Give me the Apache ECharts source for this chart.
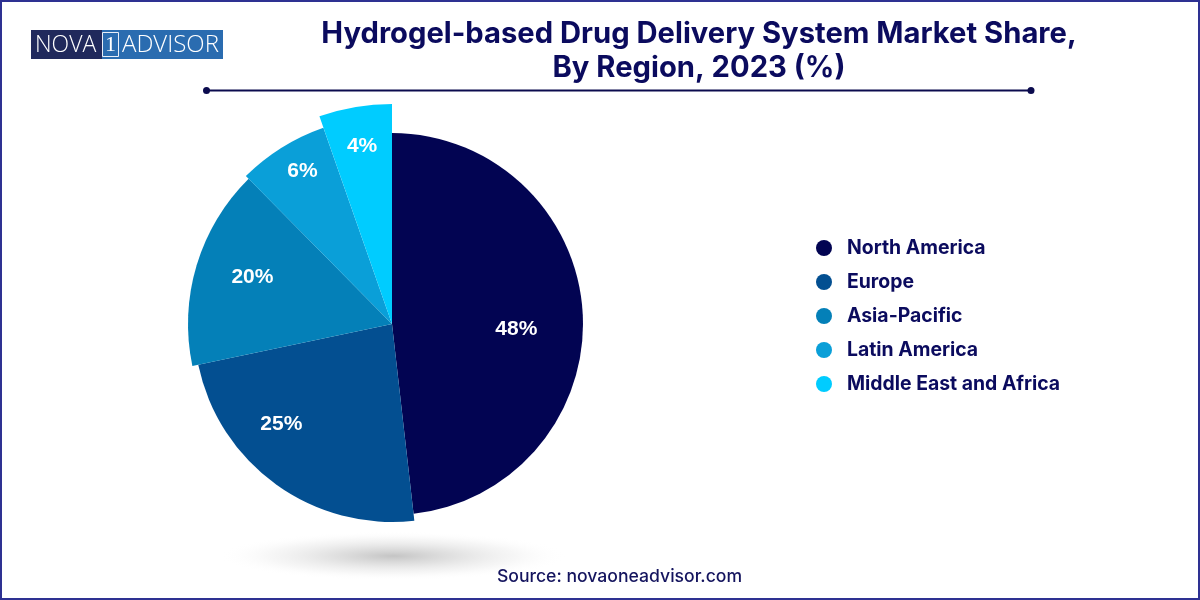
<!DOCTYPE html>
<html><head><meta charset="utf-8">
<style>html,body{margin:0;padding:0;background:#fff}#c{width:1200px;height:600px}</style>
<script src="https://cdn.jsdelivr.net/npm/echarts@6/dist/echarts.min.js"></script>
</head><body><div id="c"></div>
<script>
const categories = ['North America','Europe','Asia-Pacific','Latin America','Middle East and Africa'];
const shareLabels = [48,25,20,6,4];
const drawnShares = [48.2,23.5,15.9,7.05,5.35];
const colors = ['#020452','#034f91','#0480b8','#0a9fd8','#00ccff'];
const radii = [191,198,204,208,220];
const labelOffsets = [[26,11],[-51,17],[-39,-17],[-33,-62],[-11,-66]];
const ink = '#0b0b5e';
const sansBold = 'Inter, "Liberation Sans", sans-serif';

let cum = 0;
const series = categories.map((name,i)=>{
  const startAngle = 90 - cum*3.6;
  cum += drawnShares[i];
  return {
    type:'pie', center:[392,324], radius:[0,radii[i]], startAngle, clockwise:true,
    silent:true, animation:false, avoidLabelOverlap:false, z:2+i,
    labelLine:{show:false},
    data:[
      {name, value:drawnShares[i], itemStyle:{color:colors[i]},
       label:{show:true, position:'inside', formatter:shareLabels[i]+'%', color:'#fff',
              fontFamily:'"Liberation Sans", Arial, sans-serif', fontWeight:'bold', fontSize:21,
              offset:labelOffsets[i]}},
      {name:'\u200b'+i, value:100-drawnShares[i], itemStyle:{color:'rgba(0,0,0,0)'}, label:{show:false}}
    ]
  };
});

const chart = echarts.init(document.getElementById('c'),null,{renderer:'canvas'});
chart.setOption({
  backgroundColor:'#fff',
  animation:false,
  title:{
    text:'Hydrogel-based Drug Delivery System Market Share,\nBy Region, 2023 (%)',
    left:694, top:12, textAlign:'center',
    textStyle:{color:ink,fontFamily:sansBold,fontWeight:'bold',fontSize:29.2,lineHeight:34}
  },
  legend:{
    orient:'vertical', left:811, top:231, icon:'circle', itemWidth:16, itemHeight:16, itemGap:10,
    selectedMode:false, data:categories,
    textStyle:{color:ink,fontFamily:sansBold,fontWeight:'bold',fontSize:19.4,padding:[0,0,0,10],lineHeight:24}
  },
  series,
  graphic:[
    {type:'rect',z:100,shape:{x:1,y:1,width:1198,height:598},style:{fill:'none',stroke:'#2e3192',lineWidth:2}},
    {type:'circle',z:0,scaleY:0.14,x:393,y:556,shape:{cx:0,cy:0,r:175},
     style:{fill:new echarts.graphic.RadialGradient(0.5,0.5,0.5,[
       {offset:0,color:'rgba(196,196,196,1)'},{offset:0.35,color:'rgba(218,218,218,0.8)'},{offset:0.7,color:'rgba(238,238,238,0.5)'},{offset:1,color:'rgba(255,255,255,0)'}])}},
    {type:'line',shape:{x1:207,y1:90.5,x2:1031,y2:90.5},style:{stroke:'#0b0b4e',lineWidth:2}},
    {type:'circle',shape:{cx:206.5,cy:90.5,r:3.5},style:{fill:'#0b0b4e'}},
    {type:'circle',shape:{cx:1031,cy:90.5,r:3.5},style:{fill:'#0b0b4e'}},
    {type:'rect',shape:{x:31,y:30,width:71,height:29},style:{fill:'#20295c'}},
    {type:'rect',shape:{x:102,y:30,width:121,height:29},style:{fill:'#2a6cb0'}},
    {type:'rect',shape:{x:102.5,y:32.5,width:16,height:24},style:{fill:'none',stroke:'#e8eef8',lineWidth:1}},
    {type:'text',style:{x:35,y:45,text:'NOVA',fill:'#fff',font:'300 23px "Open Sans", sans-serif',verticalAlign:'middle'}},
    {type:'text',style:{x:110.5,y:45,text:'1',fill:'#fff',font:'22px "Liberation Serif", serif',verticalAlign:'middle',align:'center'}},
    {type:'text',style:{x:122,y:45,text:'ADVISOR',fill:'#fff',font:'300 24px "Open Sans", sans-serif',verticalAlign:'middle'}},
    {type:'text',style:{x:619.5,y:577,text:'Source: novaoneadvisor.com',fill:'#14145e',font:'500 17.6px Inter, sans-serif',verticalAlign:'middle',align:'center'}}
  ]
});
</script></body></html>
